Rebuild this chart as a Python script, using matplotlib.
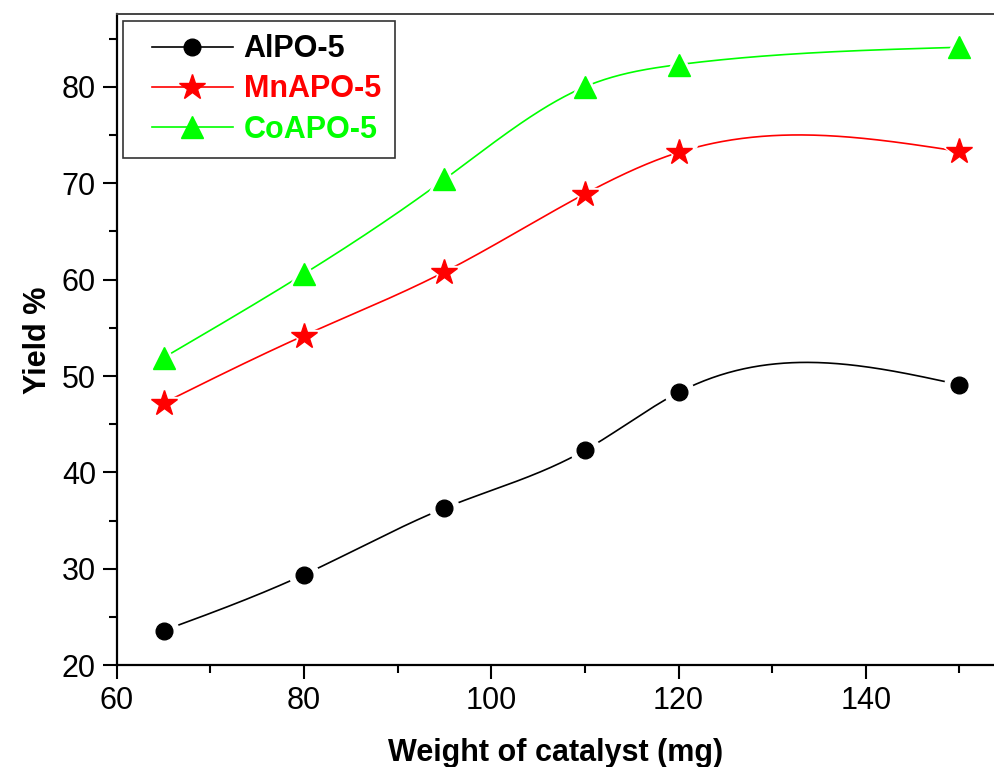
import matplotlib
matplotlib.use("Agg")
import matplotlib.pyplot as plt
import numpy as np
from matplotlib.legend_handler import HandlerLine2D
from matplotlib.lines import Line2D
from matplotlib.ticker import MultipleLocator

plt.rcParams["font.family"] = ["Liberation Sans", "DejaVu Sans"]

weight = [65, 80, 95, 110, 120, 150]
alpo = [23.6, 29.4, 36.3, 42.3, 48.3, 49.1]
mnapo = [47.2, 54.2, 60.8, 68.9, 73.2, 73.3]
coapo = [51.9, 60.6, 70.4, 80.0, 82.3, 84.1]

series = [
    ("AlPO-5", alpo, "black", "o", 12),
    ("MnAPO-5", mnapo, "#ff0000", "*", 19),
    ("CoAPO-5", coapo, "#00ff00", "^", 16),
]


def natural_spline(x, y, n=400):
    # natural cubic spline through the points, like the smoothed connect line
    x = np.asarray(x, float)
    y = np.asarray(y, float)
    k = len(x)
    h = np.diff(x)
    A = np.zeros((k, k))
    r = np.zeros(k)
    A[0, 0] = A[-1, -1] = 1.0
    for i in range(1, k - 1):
        A[i, i - 1] = h[i - 1]
        A[i, i] = 2 * (h[i - 1] + h[i])
        A[i, i + 1] = h[i]
        r[i] = 6 * ((y[i + 1] - y[i]) / h[i] - (y[i] - y[i - 1]) / h[i - 1])
    M = np.linalg.solve(A, r)
    xs = np.linspace(x[0], x[-1], n)
    idx = np.clip(np.searchsorted(x, xs) - 1, 0, k - 2)
    x0, x1 = x[idx], x[idx + 1]
    hh = x1 - x0
    a = (x1 - xs) / hh
    b = (xs - x0) / hh
    ys = (a * y[idx] + b * y[idx + 1]
          + ((a ** 3 - a) * M[idx] + (b ** 3 - b) * M[idx + 1]) * hh ** 2 / 6)
    return xs, ys


fig = plt.figure(figsize=(9.95, 7.67), dpi=100)
ax = fig.add_axes([0.1173, 0.1326, 0.8827, 0.8485])

handles = []
for name, vals, color, marker, ms in series:
    xs, ys = natural_spline(weight, vals)
    ax.plot(xs, ys, color=color, lw=1.2, zorder=2)
    # white halo leaves a small gap between the curve and each marker
    ax.plot(weight, vals, ls="none", marker=marker, ms=ms + 9,
            color="white", mec="white", zorder=3)
    ax.plot(weight, vals, ls="none", marker=marker, ms=ms,
            color=color, mec=color, zorder=4)
    handles.append(Line2D([], [], color=color, lw=1.2, marker=marker,
                          ms=ms, mec=color, label=name))

ax.set_xlim(60, 153.8)
ax.set_ylim(20, 87.5)
ax.xaxis.set_major_locator(MultipleLocator(20))
ax.xaxis.set_minor_locator(MultipleLocator(10))
ax.yaxis.set_major_locator(MultipleLocator(10))
ax.yaxis.set_minor_locator(MultipleLocator(5))
ax.tick_params(which="both", direction="out", width=1.5, labelsize=22,
               top=False, right=False)
ax.tick_params(which="major", length=10, pad=5)
ax.tick_params(which="minor", length=6)
for side in ["left", "bottom"]:
    ax.spines[side].set_linewidth(1.6)
ax.spines["top"].set_linewidth(1.4)
ax.spines["top"].set_color("#444444")
ax.spines["right"].set_visible(False)

ax.set_xlabel("Weight of catalyst (mg)", fontsize=22, fontweight="bold",
              labelpad=16)
ax.set_ylabel("Yield %", fontsize=22, fontweight="bold", labelpad=6)

leg = ax.legend(handles=handles, loc="upper left",
                prop={"weight": "bold", "size": 22}, frameon=True,
                fancybox=False, edgecolor="black", handlelength=3.17,
                borderpad=0.45, labelspacing=0.33, handletextpad=0.33,
                borderaxespad=0.2,
                handler_map={Line2D: HandlerLine2D(xpad=0.49)})
leg.get_frame().set_linewidth(1.2)
for text, (_, _, color, _, _) in zip(leg.get_texts(), series):
    text.set_color(color)

fig.savefig("out.png", dpi=100)
